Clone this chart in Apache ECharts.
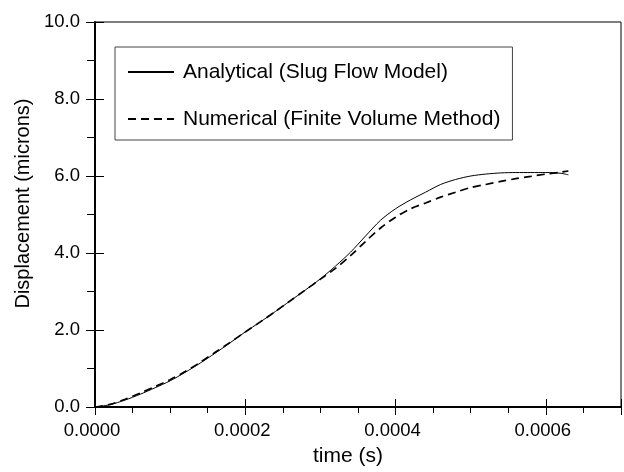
<!DOCTYPE html>
<html><head><meta charset="utf-8">
<script src="https://cdn.jsdelivr.net/npm/echarts@6/dist/echarts.min.js"></script>
<style>html,body{margin:0;padding:0;background:#fff}#c{width:624px;height:472px}</style>
</head><body><div id="c"></div>
<script>
const timeS = [0,0.00002,0.00004,0.00006,0.00008,0.0001,0.00012,0.00014,0.00016,0.00018,0.0002,0.00022,0.00024,0.00026,0.00028,0.0003,0.00032,0.00034,0.00036,0.00038,0.0004,0.00042,0.00044,0.00046,0.00048,0.0005,0.00052,0.00054,0.00056,0.00058,0.0006,0.00062,0.00063];
const analytical = [0,0.06,0.18,0.33,0.5,0.68,0.9,1.14,1.4,1.67,1.95,2.21,2.48,2.76,3.04,3.33,3.66,4.02,4.44,4.85,5.15,5.38,5.58,5.78,5.91,6.0,6.05,6.08,6.09,6.09,6.09,6.07,6.03];
const numerical  = [0,0.07,0.2,0.36,0.53,0.71,0.92,1.16,1.42,1.68,1.95,2.21,2.48,2.76,3.04,3.32,3.6,3.93,4.3,4.65,4.93,5.15,5.3,5.45,5.58,5.7,5.78,5.86,5.93,5.99,6.05,6.1,6.13];
const seriesNames = ['Analytical (Slug Flow Model)','Numerical (Finite Volume Method)'];
const xName = 'time (s)';
const yName = 'Displacement (microns)';

const FONT = "'Liberation Sans', Arial, sans-serif";
const pairs = a => timeS.map((t,i)=>[t,a[i]]);
const chart = echarts.init(document.getElementById('c'), null, {renderer:'canvas'});
const baseX = {type:'value', min:0, max:0.0007, position:'bottom', splitLine:{show:false}};
const baseY = {type:'value', min:0, max:10, position:'left', splitLine:{show:false}};
chart.setOption({
  animation:false,
  grid:{left:95, right:3, top:22, bottom:61, show:true, borderColor:'#000', borderWidth:1},
  legend:{
    left:115, top:47, orient:'vertical', show:true,
    padding:[14,12,10,12], itemGap:25, itemWidth:46, itemHeight:22,
    borderColor:'#444', borderWidth:1, backgroundColor:'#fff',
    itemStyle:{opacity:0},
    textStyle:{fontFamily:FONT, fontSize:21, lineHeight:22, color:'#000', padding:[0,0,0,4]},
    data:seriesNames.map(n=>({name:n}))
  },
  xAxis:[
    Object.assign({}, baseX, {interval:0.0002,
      axisLine:{show:true, lineStyle:{color:'#000', width:2}},
      axisTick:{show:true, length:8, lineStyle:{color:'#000', width:1}},
      axisLabel:{show:true, margin:14, fontFamily:FONT, fontSize:18.5, color:'#000', padding:[0,6,0,0],
        formatter:v=>{const k=Math.round(v/0.0002*1e6)/1e6; return Number.isInteger(k)? v.toFixed(4):'';}},
      showMaxLabel:false,
      name:xName, nameLocation:'middle', nameGap:39,
      nameTextStyle:{fontFamily:FONT, fontSize:21, color:'#000', padding:[0,20,0,0]}}),
    Object.assign({}, baseX, {interval:0.0002,
      axisLine:{show:false}, axisTick:{show:true, inside:true, length:8, lineStyle:{color:'#000', width:1}},
      axisLabel:{show:false}}),
    Object.assign({}, baseX, {interval:0.00005,
      axisLine:{show:false}, axisTick:{show:true, length:6, lineStyle:{color:'#000', width:1}},
      axisLabel:{show:false}})
  ],
  yAxis:[
    Object.assign({}, baseY, {interval:2,
      axisLine:{show:true, lineStyle:{color:'#000', width:2}},
      axisTick:{show:true, length:9, lineStyle:{color:'#000', width:1}},
      axisLabel:{show:true, margin:15, fontFamily:FONT, fontSize:18.5, color:'#000', formatter:v=>v.toFixed(1)},
      name:yName, nameLocation:'middle', nameGap:62,
      nameTextStyle:{fontFamily:FONT, fontSize:20, color:'#000', padding:[0,0,0,22]}}),
    Object.assign({}, baseY, {interval:2,
      axisLine:{show:false}, axisTick:{show:true, inside:true, length:9, lineStyle:{color:'#000', width:1}},
      axisLabel:{show:false}}),
    Object.assign({}, baseY, {interval:1,
      axisLine:{show:false}, axisTick:{show:true, length:8, lineStyle:{color:'#000', width:1}},
      axisLabel:{show:false}})
  ],
  series:[
    {name:seriesNames[0], type:'line', xAxisIndex:0, yAxisIndex:0, data:pairs(analytical), symbol:'none', smooth:0.3,
      lineStyle:{color:'#000', width:1, type:'solid'}, itemStyle:{color:'#000'}},
    {name:seriesNames[1], type:'line', xAxisIndex:0, yAxisIndex:0, data:pairs(numerical), symbol:'none', smooth:0.3,
      lineStyle:{color:'#000', width:1.7, type:[8,5]}, itemStyle:{color:'#000'}}
  ]
});
</script></body></html>
